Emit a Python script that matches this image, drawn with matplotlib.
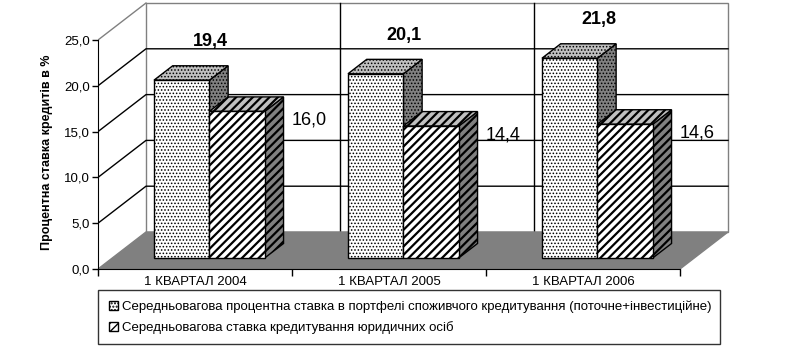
import matplotlib
matplotlib.use('Agg')
import matplotlib.pyplot as plt
from matplotlib.patches import Polygon, Patch

plt.rcParams['font.family'] = ['Liberation Sans', 'DejaVu Sans']

# дані
categories = ['1 КВАРТАЛ 2004', '1 КВАРТАЛ 2005', '1 КВАРТАЛ 2006']
consumer = [19.4, 20.1, 21.8]
corporate = [16.0, 14.4, 14.6]
series_names = ['Середньовагова процентна ставка в портфелі споживчого кредитування (поточне+інвестиційне)',
                'Середньовагова ставка кредитування юридичних осіб']
yticks = [0, 5, 10, 15, 20, 25]
ytick_labels = ['0,0', '5,0', '10,0', '15,0', '20,0', '25,0']
ylabel = 'Процентна ставка кредитів в %'

# геометрія псевдо-3D (пікселі)
W, H = 788, 351
SX, SY = 194.0, 9.16        # px на категорію / на одиницю
DXP, DYP = 48.0, 37.0       # зсув глибини
DXD, DYD = DXP / SX, DYP / SY
X0P, Y0P = 98, 269          # початок осей у пікселях
XMAX, YMAX = 3.3, 29.3
BW = 1 / 3.5                # ширина стовпчика (зазор 150%)
Z0, Z1 = 0.30, 0.69

hatches = ['.....', '////']
hatch_lw = [0.7, 1.6]


def P(x, v, z):
    return (x + z * DXD, v + z * DYD)


fig = plt.figure(figsize=(W / 100, H / 100), dpi=100)
ax = fig.add_axes([X0P / W, (H - Y0P) / H, XMAX * SX / W, YMAX * SY / H])
ax.set_xlim(0, XMAX)
ax.set_ylim(0, YMAX)
ax.patch.set_visible(False)

top = yticks[-1]
ncat = len(categories)

# задня стінка
ax.add_patch(Polygon([P(0, 0, 1), P(ncat, 0, 1), P(ncat, top, 1), P(0, top, 1)],
                     closed=True, facecolor='white', edgecolor='#808080', lw=1, zorder=0.5))
# лінії сітки: бокова стінка + задня
for t in yticks[1:-1]:
    ax.plot(*zip(P(0, t, 0), P(0, t, 1), P(ncat, t, 1)), color='black', lw=1, zorder=0.6)
ax.plot(*zip(P(0, top, 0), P(0, top, 1)), color='#808080', lw=1, zorder=0.6)
for i in range(1, ncat):
    ax.plot(*zip(P(i, 0, 1), P(i, top, 1)), color='black', lw=1, zorder=0.6)

# підлога
ax.add_patch(Polygon([P(0, 0, 0), P(ncat, 0, 0), P(ncat, 0, 1), P(0, 0, 1)],
                     closed=True, facecolor='#808080', edgecolor='#808080', lw=1, zorder=0.7))


def bar3d(x0, x1, v, k, zo):
    front = [P(x0, 0, Z0), P(x1, 0, Z0), P(x1, v, Z0), P(x0, v, Z0)]
    topf = [P(x0, v, Z0), P(x1, v, Z0), P(x1, v, Z1), P(x0, v, Z1)]
    side = [P(x1, 0, Z0), P(x1, 0, Z1), P(x1, v, Z1), P(x1, v, Z0)]
    with plt.rc_context({'hatch.linewidth': hatch_lw[k]}):
        for pts, fc in [(side, '#808080'), (topf, '#c0c0c0'), (front, 'white')]:
            ax.add_patch(Polygon(pts, closed=True, facecolor=fc, edgecolor='black',
                                 lw=1, hatch=hatches[k], zorder=zo))


for i in range(ncat):
    xa = i + 0.5 - BW
    bar3d(xa, xa + BW, consumer[i], 0, 2 + i)
    bar3d(xa + BW, xa + 2 * BW, corporate[i], 1, 2.5 + i)
    # підписи
    lx, ly = P(xa + BW / 2 + 10 / SX, consumer[i] + 2.6, Z1)
    ax.text(lx, ly, f'{consumer[i]:.1f}'.replace('.', ','), ha='center', va='center',
            fontsize=13, fontweight='bold', zorder=10)
    rx, ry = P(xa + 2 * BW + 8 / SX, corporate[i] - 1.0, Z0)
    rx += (Z1 - Z0) * DXD
    ax.text(rx, ry, f'{corporate[i]:.1f}'.replace('.', ','), ha='left', va='center',
            fontsize=13, zorder=10)

# осі
for s in ['top', 'right']:
    ax.spines[s].set_visible(False)
ax.spines['left'].set_bounds(0, top)
ax.spines['bottom'].set_bounds(0, ncat)
ax.spines['left'].set_zorder(20)
ax.spines['bottom'].set_zorder(20)
ax.set_yticks(yticks, ytick_labels, fontsize=9.5)
ax.tick_params(axis='y', direction='out', length=4, width=1, pad=2)
ax.set_xticks(range(ncat + 1), [''] * (ncat + 1))
ax.tick_params(axis='x', which='major', direction='out', length=5, width=1)
ax.set_xticks([i + 0.5 for i in range(ncat)], categories, minor=True, fontsize=9.5)
ax.tick_params(axis='x', which='minor', length=0, pad=5)

fig.text(47 / W, 1 - 152 / H, ylabel, rotation=90, ha='center', va='center',
         fontsize=9, fontweight='bold')

# легенда
handles = []
for k in range(2):
    with plt.rc_context({'hatch.linewidth': hatch_lw[k]}):
        handles.append(Patch(facecolor='white', edgecolor='black', hatch=hatches[k], lw=1))
leg = fig.legend(handles, series_names, loc='upper left',
                 bbox_to_anchor=(98 / W, 1 - 345 / H, 622 / W, 55 / H), mode='expand',
                 borderaxespad=0, fancybox=False, shadow=False, fontsize=9.5,
                 handlelength=0.7, handleheight=0.7, handletextpad=0.3,
                 labelspacing=0.6, borderpad=0.8)
leg.get_frame().set_edgecolor('black')
leg.get_frame().set_linewidth(1)

fig.savefig('out.png', dpi=100)
